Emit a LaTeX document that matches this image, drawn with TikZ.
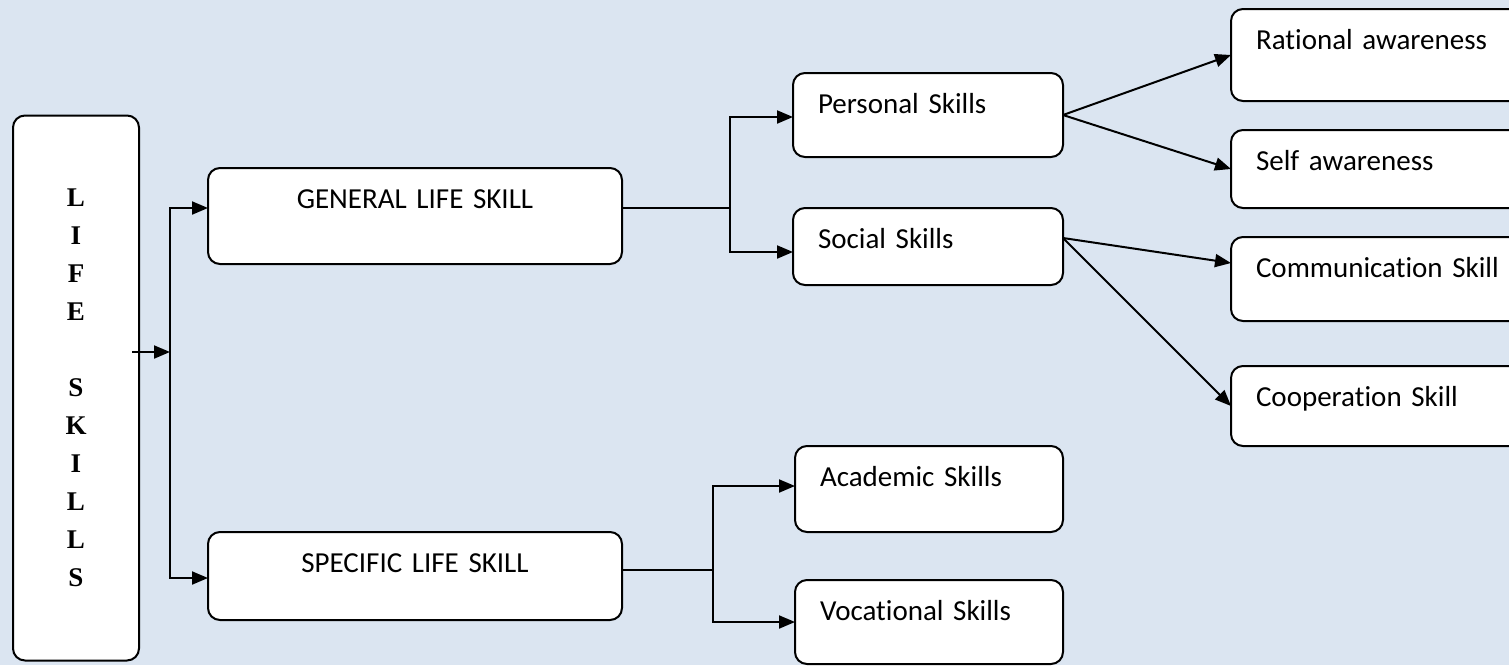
\documentclass[tikz,border=0pt]{standalone}
\usepackage{fontspec}
\newfontfamily\skillfont{Carlito}[RawFeature={-liga;-dlig;-calt}]
\newfontfamily\lifefont{Liberation Serif}
\usetikzlibrary{arrows.meta}
\definecolor{paleblue}{HTML}{DBE5F1}

\begin{document}
\begin{tikzpicture}
  [x=0.5pt,y=-0.5pt,
   every node/.style={draw,rounded corners=6pt,fill=white,line width=1pt,outer sep=0pt},
   skill/.style 2 args={anchor=north west,align=left,inner xsep=12.5pt,inner ysep=0pt,
     text width=#1,text height=20pt,text depth=#2,font=\skillfont\fontsize{14.5}{17}\selectfont},
   group/.style={skill={182pt}{#1},align=center},
   link/.style={line width=1pt,-{Triangle[length=8pt,width=6.5pt]}}]
  \useasboundingbox[fill=paleblue] (0,0) rectangle (1509,665);
  \clip (0,0) rectangle (1509,665);
  \node[minimum width=63pt,minimum height=272.5pt,align=center,
        font=\lifefont\bfseries\fontsize{13.5}{19}\selectfont] (life) at (76,388) {L\\I\\F\\E\\[19pt]S\\K\\I\\L\\L\\S};
  \node[group={28pt}] (general) at (208,168) {GENERAL LIFE SKILL};
  \node[group={24pt}] (specific) at (208,532) {SPECIFIC LIFE SKILL};
  \node[skill={110pt}{22pt}] (personal) at (793,73) {Personal Skills};
  \node[skill={110pt}{18.5pt}] (social) at (793,208) {Social Skills};
  \node[skill={109pt}{23pt}] (academic) at (795,446) {Academic Skills};
  \node[skill={109pt}{22pt}] (vocational) at (795,580) {Vocational Skills};
  \node[skill={130pt}{26pt}] (rational) at (1231,9) {Rational awareness};
  \node[skill={130pt}{19pt}] (self) at (1231,130) {Self awareness};
  \node[skill={130pt}{22pt}] (comm) at (1231,237) {Communication Skill};
  \node[skill={130pt}{20pt}] (coop) at (1231,366) {Cooperation Skill};
  \coordinate (lsplit) at (170,352);
  \coordinate (gsplit) at (730,208);
  \coordinate (ssplit) at (713,570);
  \coordinate (sout) at ([yshift=4.25pt]social.east);
  \coordinate (cin) at ([yshift=8pt]comm.west);
  \draw[link] ([xshift=-3.5pt]life.east |- lsplit) -- (lsplit);
  \draw[link] (lsplit) |- ([yshift=4pt]general.west);
  \draw[link] (lsplit) |- ([yshift=-1pt]specific.west);
  \draw[line width=1pt] ([yshift=4pt]general.east) -- (gsplit);
  \draw[link] (gsplit) |- ([yshift=-1pt]personal.west);
  \draw[link] (gsplit) |- ([yshift=-2.75pt]social.west);
  \draw[line width=1pt] ([yshift=3pt]specific.east) -- (ssplit);
  \draw[link] (ssplit) |- ([yshift=1.5pt]academic.west);
  \draw[link] (ssplit) |- (vocational.west);
  \foreach \from/\to in {personal.east/rational.west,personal.east/self.west,sout/cin,sout/coop.west}
    \draw[link] (\from) -- (\to);
\end{tikzpicture}
\end{document}
